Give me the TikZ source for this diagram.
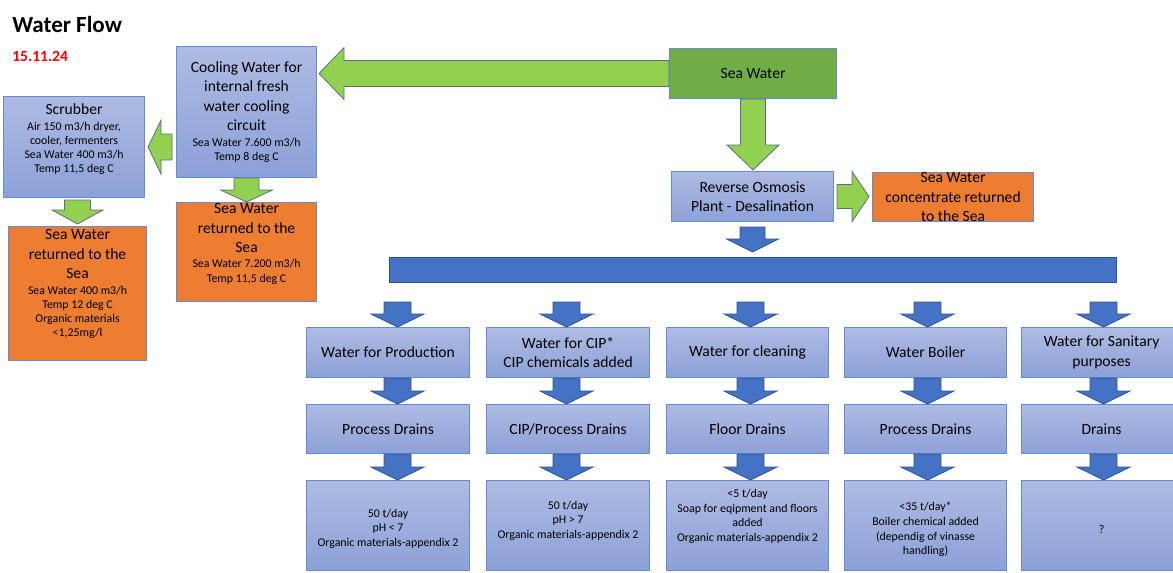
\documentclass[tikz,border=0pt]{standalone}
\usepackage{fontspec}
\setmainfont{Carlito}
\usetikzlibrary{calc}
\definecolor{boxtop}{RGB}{174,187,227}
\definecolor{boxbot}{RGB}{140,161,216}
\definecolor{boxline}{RGB}{100,140,210}
\definecolor{boxorange}{RGB}{237,125,49}
\definecolor{boxgreen}{RGB}{112,173,71}
\definecolor{arrowgreen}{RGB}{146,208,80}
\definecolor{arrowline}{RGB}{90,110,130}
\definecolor{arrowblue}{RGB}{68,114,196}
\definecolor{blueline}{RGB}{47,82,143}
\newcommand\bigtxt{\fontsize{11.7}{14.6}\selectfont}
\newcommand\smalltxt{\fontsize{8.9}{10.9}\selectfont}
\newcommand\blockarrow[6]{%
  \path ($(#3)!#6!(#2)$) coordinate (hb);
  \draw[#1] ($(#2)!#4!90:(#3)$) -- ($(hb)!#4!90:(#3)$) -- ($(hb)!#5!90:(#3)$) -- (#3)
    -- ($(hb)!#5!-90:(#3)$) -- ($(hb)!#4!-90:(#3)$) -- ($(#2)!#4!-90:(#3)$) -- cycle;}
\newcommand\colarrows[4]{%
  \path (#1.north) ++(#4,-25) coordinate (#1-a) ++(0,25) coordinate (#1-b);
  \path (#1.south) ++(#4,0) coordinate (#1-c);
  \path (#2.north) ++(#4,0) coordinate (#2-a);
  \path (#2.south) ++(#4,0) coordinate (#2-b);
  \path (#3.north) ++(#4,0) coordinate (#3-a);
  \blockarrow{bluearrow}{#1-a}{#1-b}{10.1pt}{19.9pt}{9.75pt}
  \blockarrow{bluearrow}{#1-c}{#2-a}{10.1pt}{19.9pt}{9.75pt}
  \blockarrow{bluearrow}{#2-b}{#3-a}{10.1pt}{19.9pt}{9.75pt}}
\tikzset{
  wd/.style={minimum width=#1*0.75pt},
  ht/.style={minimum height=#1*0.75pt},
  bluebox/.style={anchor=north west, draw=boxline, line width=0.8pt, top color=boxtop,
    bottom color=boxbot, inner sep=0pt, align=center, font=\bigtxt},
  orangebox/.style={anchor=north west, draw=boxline, line width=0.8pt, fill=boxorange,
    inner sep=0pt, align=center, font=\bigtxt},
  greenbox/.style={anchor=north west, draw=boxline, line width=0.8pt, fill=boxgreen,
    inner sep=0pt, align=center, font=\bigtxt},
  distbar/.style={anchor=north west, draw=blueline, line width=0.8pt, fill=arrowblue, inner sep=0pt},
  txt/.style={inner sep=0pt, align=center, font=\bigtxt},
  outtxt/.style={inner sep=0pt, align=center, font=\smalltxt},
  greenarrow/.style={fill=arrowgreen, draw=arrowline, line width=0.6pt},
  bluearrow/.style={fill=arrowblue, draw=blueline, line width=0.6pt}
}
\begin{document}
\begin{tikzpicture}[x=0.75pt, y=-0.75pt]
\useasboundingbox (0,0) rectangle (1173,572);
\node[font=\fontsize{17.3}{20}\selectfont\bfseries, anchor=base west, inner sep=0pt] (title) at (12,32) {Water Flow};
\node[font=\fontsize{11.7}{14}\selectfont\bfseries, text=red, anchor=base west, inner sep=0pt] (date) at (12,61) {15.11.24};
\node[greenbox, wd=167, ht=50] (sea) at (669,48) {Sea Water};
\node[bluebox, wd=140, ht=131] (cool) at (176,46) {Cooling Water for\\internal fresh\\water cooling\\circuit\\[-2.6pt]%
  \smalltxt Sea Water 7.600 m3/h\\[-4.1pt]\smalltxt Temp 8 deg C};
\node[bluebox, wd=141, ht=101] (scrub) at (3,96) {};
\node[txt] (scrubtxt) at ([yshift=6pt]scrub.center) {Scrubber\\[-2.6pt]\smalltxt Air 150 m3/h dryer,\\[-4.3pt]%
  \smalltxt cooler, fermenters\\[-4.3pt]\smalltxt Sea Water 400 m3/h\\[-4.3pt]\smalltxt Temp 11,5 deg C};
\node[orangebox, wd=138, ht=134] (scrubret) at (8,226) {};
\node[txt] (scrubrettxt) at ([yshift=7pt]scrubret.center) {Sea Water\\returned to the\\Sea\\[-2.6pt]%
  \smalltxt Sea Water 400 m3/h\\[-4.1pt]\smalltxt Temp 12 deg C\\[-4.1pt]\smalltxt Organic materials\\[-4.1pt]\smalltxt <1,25mg/l};
\node[orangebox, wd=140, ht=99] (coolret) at (176,202) {};
\node[txt] (coolrettxt) at ([yshift=6pt]coolret.center) {Sea Water\\returned to the\\Sea\\[-3.4pt]%
  \smalltxt Sea Water 7.200 m3/h\\[-3.4pt]\smalltxt Temp 11,5 deg C};
\node[bluebox, wd=162, ht=50] (ro) at (671,171) {Reverse Osmosis\\Plant - Desalination};
\node[orangebox, wd=161, ht=49] (conc) at (872,172) {Sea Water\\concentrate returned\\to the Sea};
\node[distbar, wd=727, ht=25] (dist) at (389,257) {};
\node[bluebox, wd=163, ht=50] (prod) at (306,327) {Water for Production};
\node[bluebox, wd=163, ht=50] (cip) at (486,327) {Water for CIP*\\CIP chemicals added};
\node[bluebox, wd=162, ht=50] (clean) at (666,327) {Water for cleaning};
\node[bluebox, wd=162, ht=50] (boiler) at (844,327) {Water Boiler};
\node[bluebox, wd=160, ht=50] (sanit) at (1021,327) {Water for Sanitary\\purposes};
\node[bluebox, wd=163, ht=49] (proddrain) at (306,404) {Process Drains};
\node[bluebox, wd=163, ht=49] (cipdrain) at (486,404) {CIP/Process Drains};
\node[bluebox, wd=162, ht=49] (floordrain) at (666,404) {Floor Drains};
\node[bluebox, wd=162, ht=49] (boilerdrain) at (844,404) {Process Drains};
\node[bluebox, wd=160, ht=49] (sanitdrain) at (1021,404) {Drains};
\node[bluebox, wd=163, ht=90] (prodout) at (306,480) {};
\node[bluebox, wd=163, ht=90] (cipout) at (486,480) {};
\node[bluebox, wd=162, ht=90] (cleanout) at (666,480) {};
\node[bluebox, wd=162, ht=90] (boilerout) at (844,480) {};
\node[bluebox, wd=160, ht=90] (sanitout) at (1021,480) {};
\node[outtxt] (prodouttxt) at ([yshift=-2.25pt]prodout.center) {50 t/day\\pH < 7\\Organic materials-appendix 2};
\node[outtxt] (cipouttxt) at ([yshift=3.75pt]cipout.center) {50 t/day\\pH > 7\\Organic materials-appendix 2};
\node[outtxt] (cleanouttxt) at ([yshift=6.75pt]cleanout.center) {<5 t/day\\Soap for eqipment and floors\\added\\Organic materials-appendix 2};
\node[outtxt] (boilerouttxt) at ([yshift=-3pt]boilerout.center) {<35 t/day*\\Boiler chemical added\\(dependig of vinasse\\handling)};
\node[outtxt] (sanitouttxt) at ([yshift=-3pt]sanitout.center) {?};
\path (cool.east |- sea.west) ++(2,0) coordinate (c1);
\blockarrow{greenarrow}{sea.west}{c1}{9.75pt}{19.5pt}{18.75pt}
\path (cool.west |- scrub.east) ++(-4,0) coordinate (c2);
\path (scrub.east) ++(3,0) coordinate (c3);
\blockarrow{greenarrow}{c2}{c3}{9.75pt}{20.25pt}{9.75pt}
\path (scrubret.north |- scrub.south) ++(0,2) coordinate (c4);
\path (scrubret.north) ++(0,-2) coordinate (c5);
\blockarrow{greenarrow}{c4}{c5}{9.75pt}{19.1pt}{10.5pt}
\blockarrow{greenarrow}{cool.south}{coolret.north}{9.4pt}{19.5pt}{9pt}
\path (sea.south |- ro.north) ++(0,-1) coordinate (c6);
\blockarrow{greenarrow}{sea.south}{c6}{9.4pt}{19.5pt}{18.75pt}
\path (ro.east) ++(3,0) coordinate (c7);
\path (ro.east -| conc.west) ++(-3,0) coordinate (c8);
\blockarrow{greenarrow}{c7}{c8}{9pt}{18.75pt}{12.75pt}
\path (ro.south) ++(0,5) coordinate (c9);
\path (ro.south |- dist.north) ++(0,-5) coordinate (c10);
\blockarrow{bluearrow}{c9}{c10}{9.4pt}{19.5pt}{9.75pt}
\colarrows{prod}{proddrain}{prodout}{9.5}
\colarrows{cip}{cipdrain}{cipout}{-1.5}
\colarrows{clean}{floordrain}{cleanout}{3}
\colarrows{boiler}{boilerdrain}{boilerout}{2}
\colarrows{sanit}{sanitdrain}{sanitout}{2}
\end{tikzpicture}
\end{document}
